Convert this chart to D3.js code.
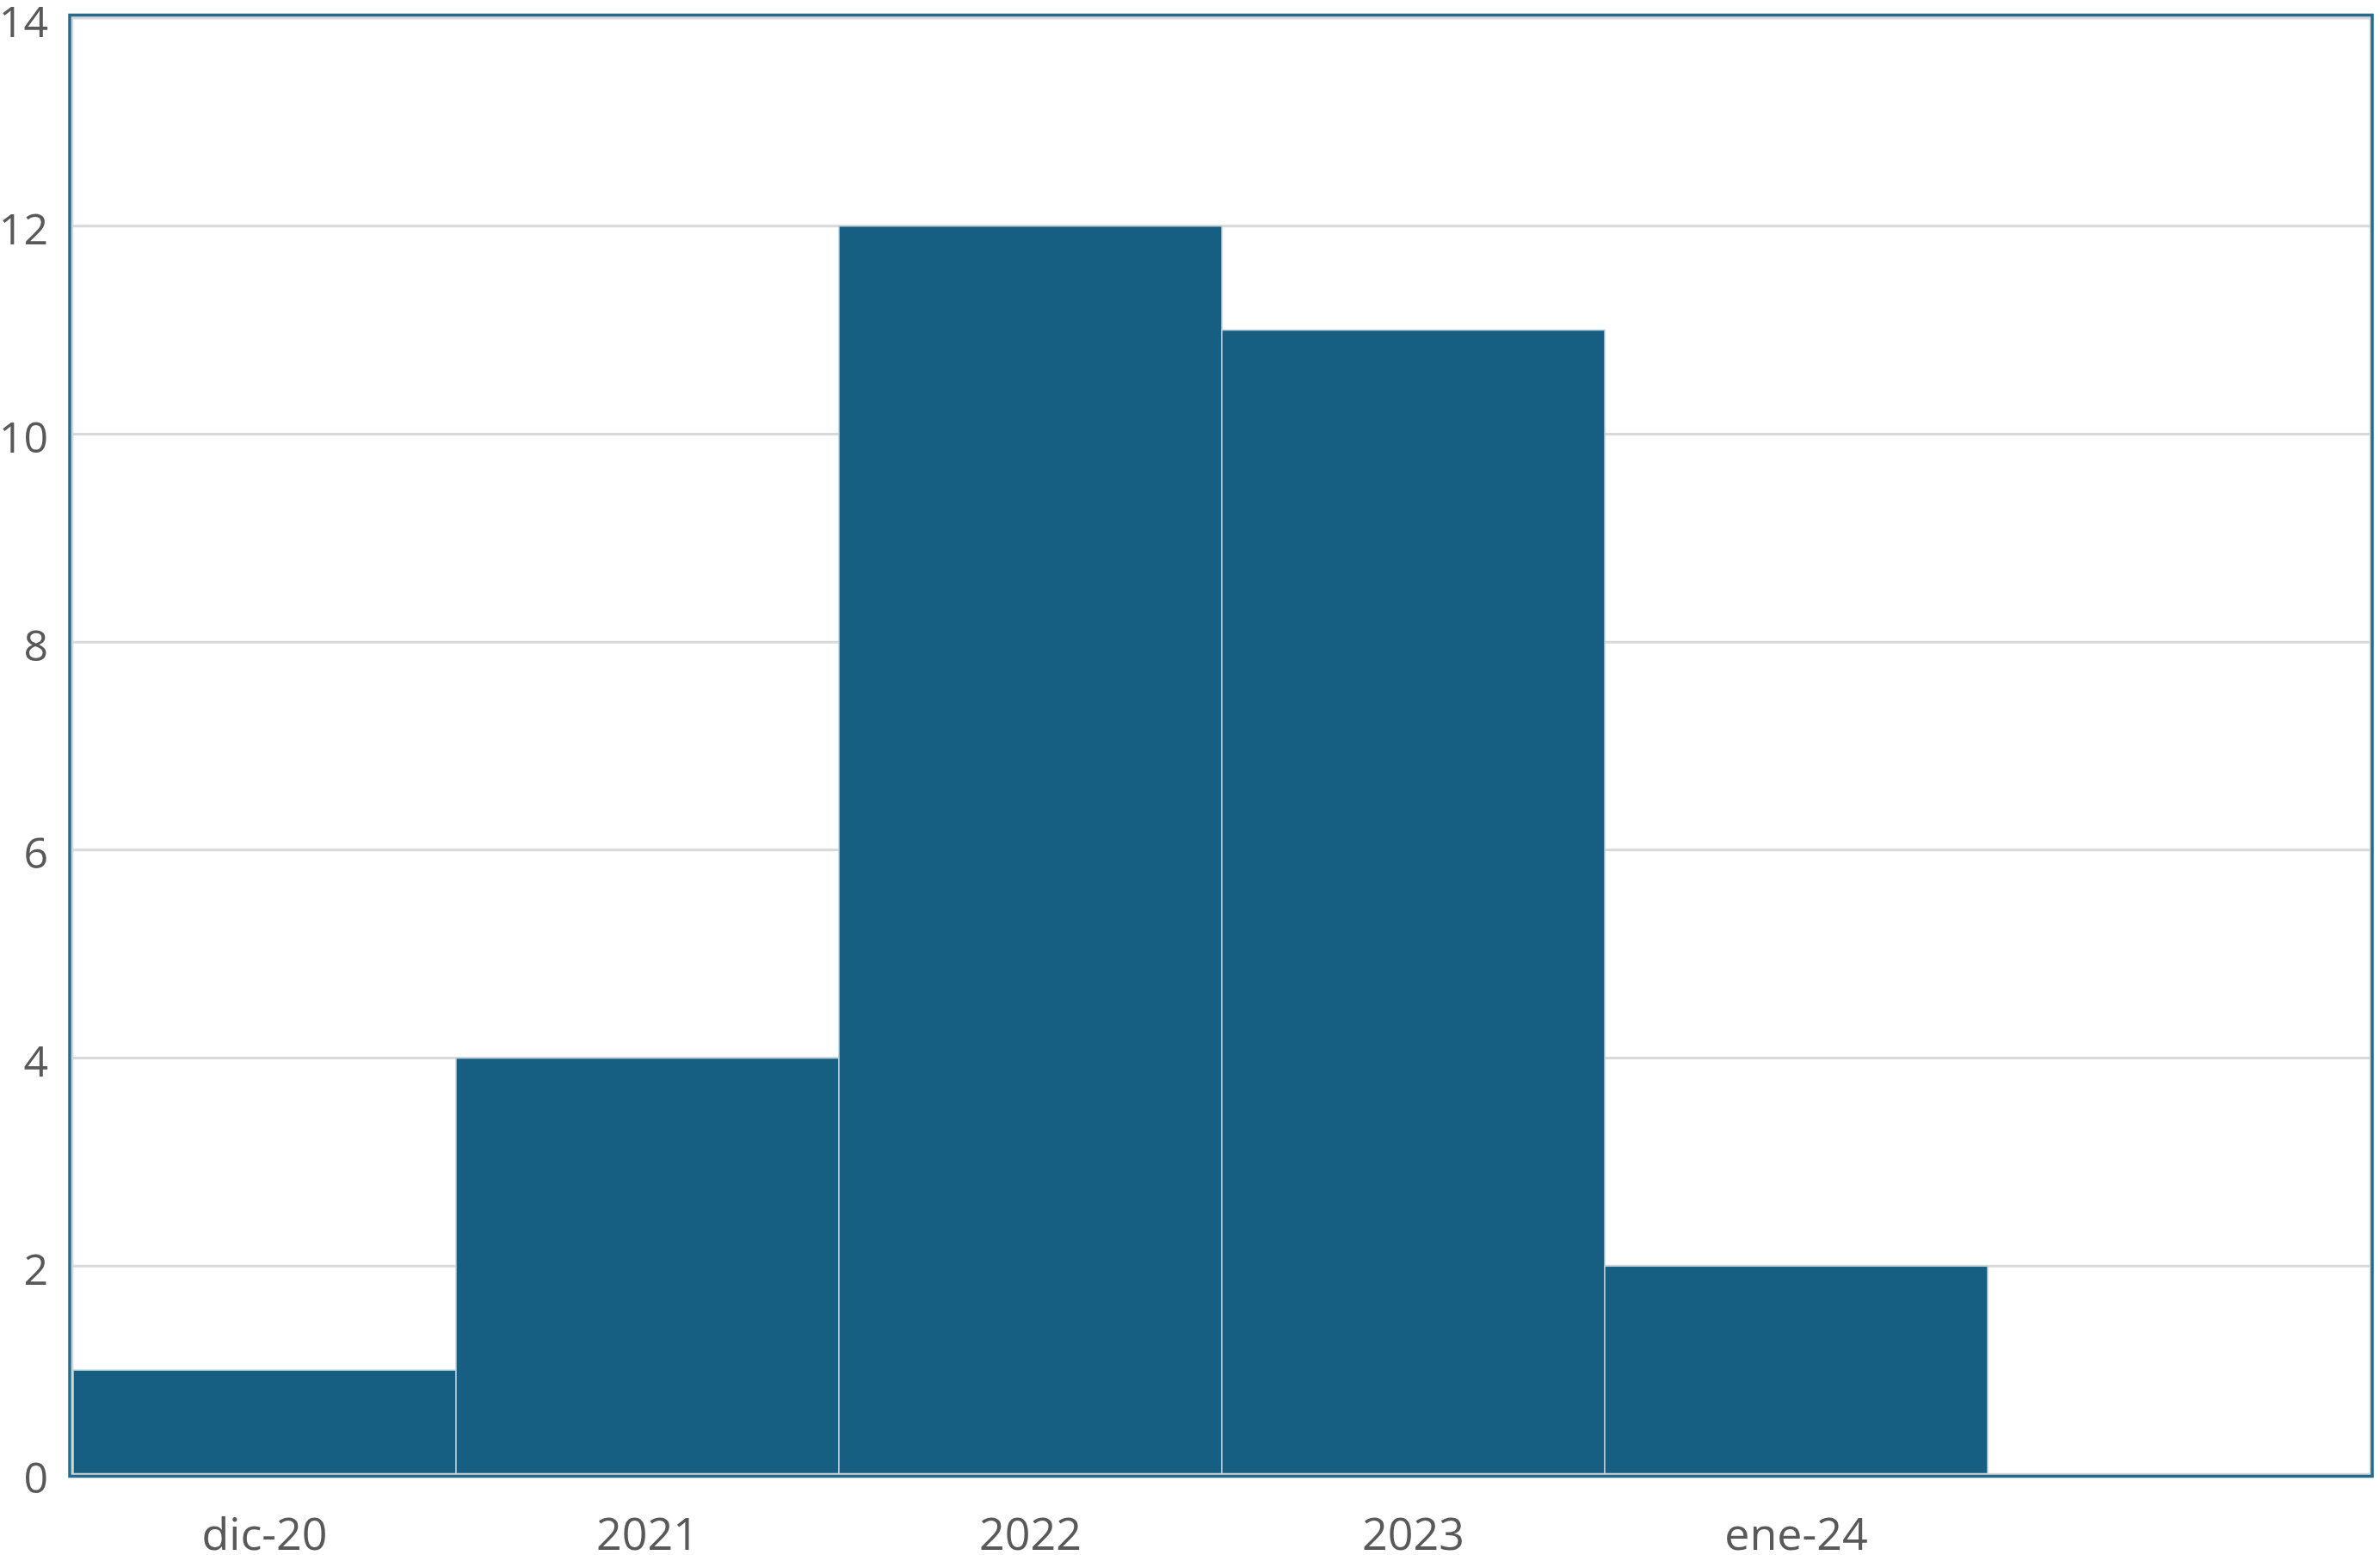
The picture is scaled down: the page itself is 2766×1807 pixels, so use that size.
<!DOCTYPE html>
<html>
<head>
<meta charset="utf-8">
<script src="https://cdn.jsdelivr.net/npm/d3@7"></script>
<style>
  html, body { margin: 0; padding: 0; background: #ffffff; }
  svg { display: block; }
</style>
</head>
<body>
<script>
const categories = ["dic-20", "2021", "2022", "2023", "ene-24", ""];
const values = [1, 4, 12, 11, 2, 0];
const yTicks = [0, 2, 4, 6, 8, 10, 12, 14];

(function () {
const W = 2766, H = 1807;
const pLeft = 84, pRight = 2755, pTop = 21, pBottom = 1713;

const svg = d3.select("body").append("svg")
  .attr("width", W).attr("height", H);

const x = d3.scaleBand().domain(categories).range([pLeft + 1, pRight]).padding(0);
const y = d3.scaleLinear().domain([0, 14]).range([pBottom, pTop]);

// gridlines
svg.append("g")
  .selectAll("line")
  .data(yTicks.filter(d => d > 0))
  .join("line")
  .attr("x1", pLeft).attr("x2", pRight)
  .attr("y1", d => y(d)).attr("y2", d => y(d))
  .attr("stroke", "#d9d9d9").attr("stroke-width", 3);

// bars
svg.append("g")
  .selectAll("rect")
  .data(categories.map((c, i) => ({ c, v: values[i] })))
  .join("rect")
  .attr("x", d => x(d.c))
  .attr("width", x.bandwidth())
  .attr("y", d => y(d.v))
  .attr("height", d => y(0) - y(d.v))
  .attr("fill", "#175f82")
  .attr("stroke", "#bcd0db")
  .attr("stroke-width", d => d.v > 0 ? 1.5 : 0);

// plot area inner gray border
svg.append("rect")
  .attr("x", pLeft).attr("y", pTop - 1)
  .attr("width", pRight - pLeft).attr("height", pBottom - pTop + 1)
  .attr("fill", "none").attr("stroke", "#d4d4d4").attr("stroke-width", 2.5);

// outer blue frame
svg.append("rect")
  .attr("x", 81).attr("y", 17.5)
  .attr("width", 2757 - 81).attr("height", 1715.5 - 17.5)
  .attr("fill", "none").attr("stroke", "#236b8f").attr("stroke-width", 3.5);

// y axis labels
const yAxis = d3.axisLeft(y).tickValues(yTicks).tickSize(0).tickPadding(0);
const gy = svg.append("g").attr("transform", "translate(56,5)").call(yAxis);
gy.select(".domain").remove();
gy.selectAll("text")
  .attr("font-family", "'Open Sans', 'Segoe UI', sans-serif")
  .attr("font-size", 50)
  .attr("fill", "#595959");

// x axis labels
const xAxis = d3.axisBottom(x).tickSize(0).tickPadding(0);
const gx = svg.append("g").attr("transform", "translate(0,1764)").call(xAxis);
gx.select(".domain").remove();
gx.selectAll("text")
  .attr("font-family", "'Open Sans', 'Segoe UI', sans-serif")
  .attr("font-size", 52)
  .attr("fill", "#595959");
})();
</script>
</body>
</html>
